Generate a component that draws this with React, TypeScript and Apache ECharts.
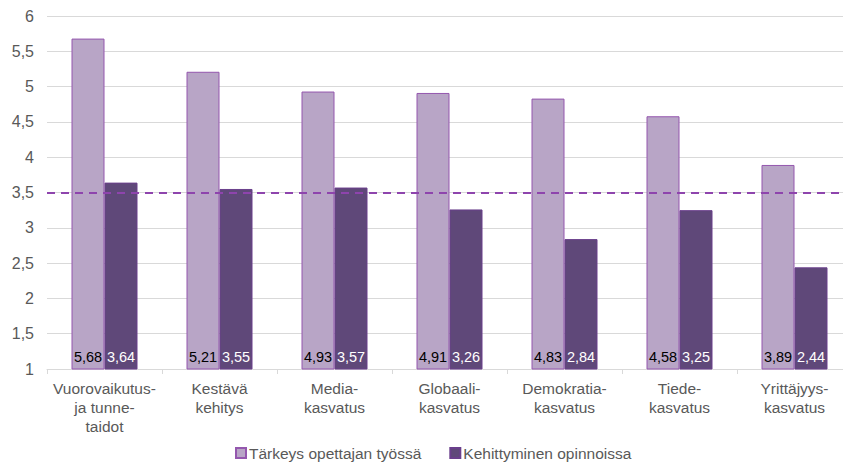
import React, { useEffect, useRef } from "react";
import * as echarts from "echarts";

const categories = [
  "Vuorovaikutus-\nja tunne-\ntaidot",
  "Kestävä\nkehitys",
  "Media-\nkasvatus",
  "Globaali-\nkasvatus",
  "Demokratia-\nkasvatus",
  "Tiede-\nkasvatus",
  "Yrittäjyys-\nkasvatus",
];
const seriesNames = ["Tärkeys opettajan työssä", "Kehittyminen opinnoissa"];
const importance = [5.68, 5.21, 4.93, 4.91, 4.83, 4.58, 3.89];
const development = [3.64, 3.55, 3.57, 3.26, 2.84, 3.25, 2.44];
const referenceLevel = 3.5;

const fmt = (v: number) => String(v).replace(".", ",");

export default function App() {
  const ref = useRef<HTMLDivElement>(null);
  useEffect(() => {
    if (!ref.current) return;
    const chart = echarts.init(ref.current, null, { renderer: "svg" });
    const font = "Liberation Sans, Arial, sans-serif";
    chart.setOption({
      animation: false,
      textStyle: { fontFamily: font },
      grid: {
        left: 47,
        width: 805,
        top: 16,
        bottom: 95,
        containLabel: false,
        outerBoundsMode: "none",
      },
      legend: {
        left: 235,
        top: 445,
        padding: 0,
        itemWidth: 10,
        itemHeight: 10,
        itemGap: 28,
        icon: "rect",
        textStyle: { color: "#595959", fontSize: 15.5, fontFamily: font, padding: [0, 0, 0, -2] },
        data: seriesNames,
      },
      xAxis: {
        type: "category",
        data: categories,
        axisLine: { lineStyle: { color: "#D9D9D9", width: 1 } },
        axisTick: { show: true, length: 5, lineStyle: { color: "#D9D9D9" } },
        axisLabel: {
          color: "#595959",
          fontSize: 15.5,
          lineHeight: 19,
          margin: 10,
          interval: 0,
          fontFamily: font,
        },
      },
      yAxis: {
        type: "value",
        min: 1,
        max: 6,
        interval: 0.5,
        axisLine: { show: false },
        axisTick: { show: false },
        splitLine: { lineStyle: { color: "#D9D9D9", width: 1 } },
        axisLabel: {
          color: "#595959",
          fontSize: 16,
          margin: 13,
          fontFamily: font,
          formatter: (v: number) => fmt(v),
        },
      },
      series: [
        {
          name: seriesNames[0],
          type: "bar",
          data: importance,
          barWidth: 33,
          barGap: "0%",
          itemStyle: { color: "#B8A5C6", borderColor: "#9457AE", borderWidth: 1 },
          label: {
            show: true,
            position: "insideBottom",
            distance: 5,
            color: "#000000",
            fontSize: 14.5,
            fontFamily: font,
            formatter: (p: any) => fmt(p.value),
          },
          markLine: {
            silent: true,
            symbol: "none",
            label: { show: false },
            lineStyle: { color: "#8E44AD", type: [8, 6], width: 2 },
            data: [{ yAxis: referenceLevel }],
          },
          z: 2,
        },
        {
          name: seriesNames[1],
          type: "bar",
          data: development,
          barWidth: 33,
          barGap: "0%",
          itemStyle: { color: "#5F4879", borderColor: "#6A3F8C", borderWidth: 1 },
          label: {
            show: true,
            position: "insideBottom",
            distance: 5,
            color: "#FFFFFF",
            fontSize: 14.5,
            fontFamily: font,
            formatter: (p: any) => fmt(p.value),
          },
          z: 2,
        },
      ],
    });
    return () => chart.dispose();
  }, []);
  return (
    <div
      ref={ref}
      style={{ position: "absolute", left: 0, top: 0, width: 843, height: 464, background: "#fff", overflow: "hidden" }}
    />
  );
}
